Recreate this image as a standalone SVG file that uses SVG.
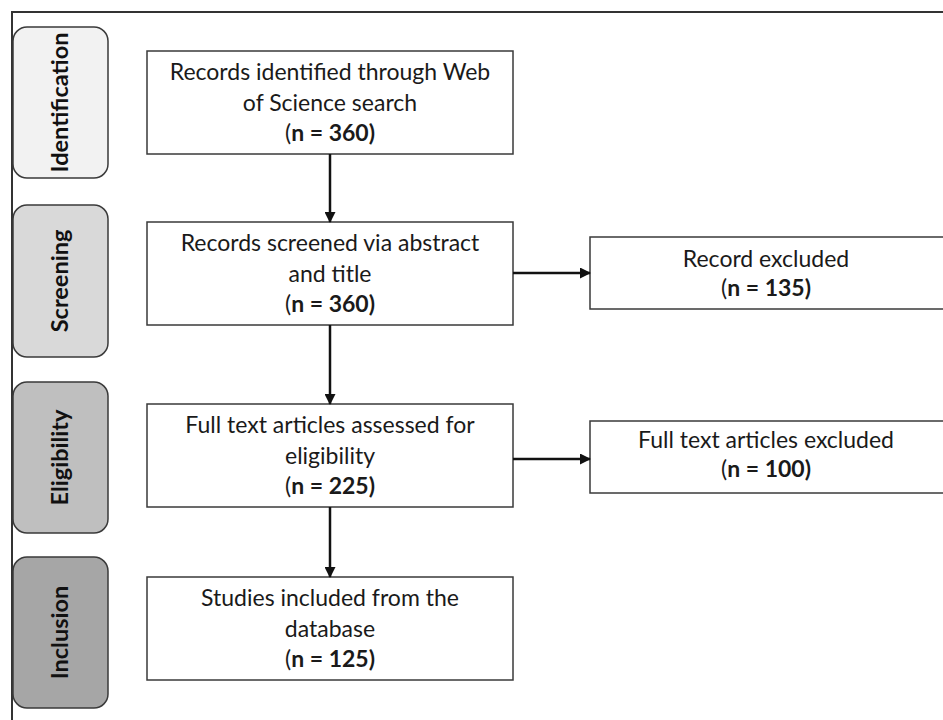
<svg xmlns="http://www.w3.org/2000/svg" width="943" height="720" viewBox="0 0 943 720">
<style>
.stage{stroke:#3a3a3a;stroke-width:1.5}
.box{fill:#fff;stroke:#3a3a3a;stroke-width:1.5}
.st{font-family:Lato,"Liberation Sans",sans-serif;font-weight:bold;font-size:23.5px;fill:#111;text-anchor:middle}
.t{font-family:Lato,"Liberation Sans",sans-serif;font-size:23px;fill:#1a1a1a;text-anchor:middle}
.b{font-weight:bold}
.conn{stroke:#111;stroke-width:2.5;fill:none}
</style>
<defs>
<marker id="ah" markerWidth="11" markerHeight="11" refX="10" refY="5.5" orient="auto" markerUnits="userSpaceOnUse">
<path d="M0,0 L11,5.5 L0,11 Z" fill="#111"/>
</marker>
</defs>
<rect width="943" height="720" fill="#fff"/>
<path d="M12,720 V12 H943" fill="none" stroke="#333" stroke-width="2"/>
<g id="stage-identification">
<rect class="stage" x="13" y="27" width="95" height="151" rx="14" fill="#f2f2f2"/>
<text class="st" transform="translate(68,102.5) rotate(-90)">Identification</text>
</g>
<g id="stage-screening">
<rect class="stage" x="13" y="205" width="95" height="152" rx="14" fill="#d9d9d9"/>
<text class="st" transform="translate(68,281) rotate(-90)">Screening</text>
</g>
<g id="stage-eligibility">
<rect class="stage" x="13" y="382" width="95" height="151" rx="14" fill="#bfbfbf"/>
<text class="st" transform="translate(68,457.5) rotate(-90)">Eligibility</text>
</g>
<g id="stage-inclusion">
<rect class="stage" x="13" y="557" width="95" height="151" rx="14" fill="#a6a6a6"/>
<text class="st" transform="translate(68,632.5) rotate(-90)">Inclusion</text>
</g>
<g id="identified">
<rect class="box" x="147" y="51" width="366" height="103"/>
<text class="t" x="330" y="80">Records identified through Web</text>
<text class="t" x="330" y="111">of Science search</text>
<text class="t" x="330" y="141">(<tspan class="b">n = 360)</tspan></text>
</g>
<g id="screened">
<rect class="box" x="147" y="222" width="366" height="103"/>
<text class="t" x="330" y="251">Records screened via abstract</text>
<text class="t" x="330" y="282">and title</text>
<text class="t" x="330" y="312">(<tspan class="b">n = 360)</tspan></text>
</g>
<g id="excluded-records">
<rect class="box" x="590" y="237" width="360" height="72"/>
<text class="t" x="766" y="267">Record excluded</text>
<text class="t" x="766" y="296">(<tspan class="b">n = 135)</tspan></text>
</g>
<g id="assessed">
<rect class="box" x="147" y="404" width="366" height="103"/>
<text class="t" x="330" y="433">Full text articles assessed for</text>
<text class="t" x="330" y="464">eligibility</text>
<text class="t" x="330" y="494">(<tspan class="b">n = 225)</tspan></text>
</g>
<g id="excluded-articles">
<rect class="box" x="590" y="421" width="360" height="72"/>
<text class="t" x="766" y="448">Full text articles excluded</text>
<text class="t" x="766" y="477">(<tspan class="b">n = 100)</tspan></text>
</g>
<g id="included">
<rect class="box" x="147" y="577" width="366" height="103"/>
<text class="t" x="330" y="606">Studies included from the</text>
<text class="t" x="330" y="637">database</text>
<text class="t" x="330" y="667">(<tspan class="b">n = 125)</tspan></text>
</g>
<g id="connectors">
<line class="conn" x1="330" y1="154" x2="330" y2="222" marker-end="url(#ah)"/>
<line class="conn" x1="330" y1="325" x2="330" y2="404" marker-end="url(#ah)"/>
<line class="conn" x1="330" y1="507" x2="330" y2="577" marker-end="url(#ah)"/>
<line class="conn" x1="513" y1="273" x2="590" y2="273" marker-end="url(#ah)"/>
<line class="conn" x1="513" y1="459" x2="590" y2="459" marker-end="url(#ah)"/>
</g>
</svg>
